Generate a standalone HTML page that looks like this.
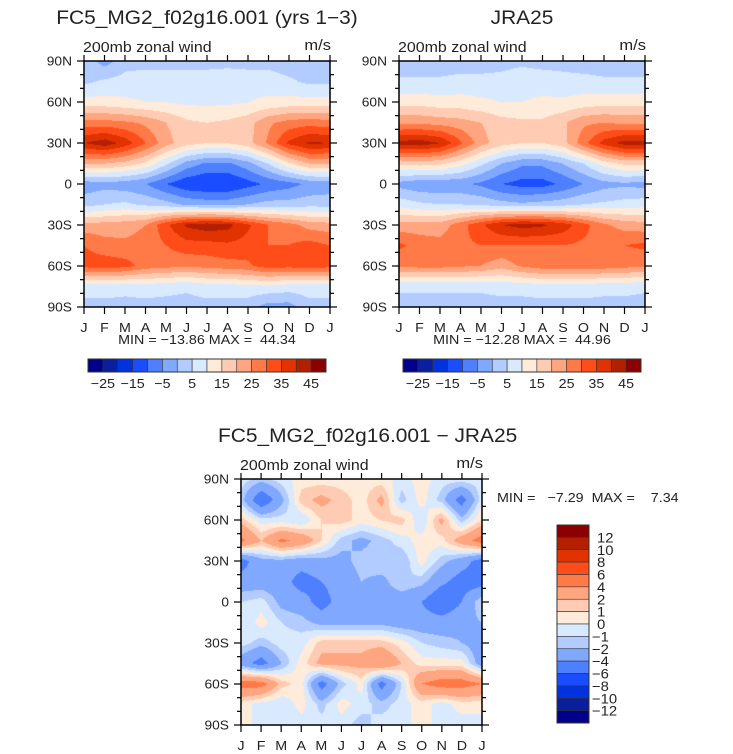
<!DOCTYPE html>
<html><head><meta charset="utf-8">
<style>
body{margin:0;background:#fff;width:733px;height:754px;overflow:hidden;position:relative;font-family:"Liberation Sans",sans-serif}
canvas{position:absolute}
svg{position:absolute;left:0;top:0}
text{font-family:"Liberation Sans",sans-serif;fill:#222;white-space:pre}
</style></head><body>
<canvas id="c1" style="left:84px;top:61px" width="246" height="246"></canvas>
<canvas id="c2" style="left:399px;top:61px" width="246" height="246"></canvas>
<canvas id="c3" style="left:241px;top:479px" width="241" height="246"></canvas>
<svg id="s" width="733" height="754"></svg>
<script>
const months=["J","F","M","A","M","J","J","A","S","O","N","D","J"];
const latLabels=["90N","60N","30N","0","30S","60S","90S"];
const colors=["#00008b","#0a1f9e","#0033dd","#1a4dff","#4d7fff","#80a8ff","#b3ccff","#d9eaff","#ffebd9","#ffccb3","#ffa680","#ff7a47","#ff4d1a","#e03300","#b32000","#8b0000"];
const levelsAbs=[-25,-20,-15,-10,-5,0,5,10,15,20,25,30,35,40,45];
const levelsDiff=[-12,-10,-8,-6,-4,-2,-1,0,1,2,4,6,8,10,12];
const barLabelsAbs=["-25","-15","-5","5","15","25","35","45"];
const barLabelsDiff=["12","10","8","6","4","2","1","0","-1","-2","-4","-6","-8","-10","-12"];
// rows: 90N,75N,60N,45N,30N,15N,0,15S,30S,45S,60S,75S,90S ; cols J..J
const modelVals=[
[3,-2,3,3,3,3,3,3,3,3,2,3,3],
[4,6,7,8,8,8,8,9,8,8,6,4,4],
[12,12,11,10,10,9,9,9,10,11,12,12,12],
[27,27,26,24,20,16,15,16,18,24,27,28,27],
[40,43,38,30,22,17,15,15,18,26,36,41,40],
[20,20,18,14,6,-2,-6,-6,-2,5,14,20,20],
[-3,-2,-3,-5,-10,-14,-15,-15,-12,-9,-7,-4,-3],
[3,5,6,4,2,-1,-2,-2,0,2,2,3,3],
[22,22,23,25,34,41,43,42,36,30,27,23,22],
[30,27,26,27,30,33,33,34,33,30,30,32,30],
[32,33,32,28,27,26,27,28,29,33,32,33,32],
[8,8,7,8,7,6,8,8,9,9,8,8,8],
[3,3,3,3,3,3,3,3,2,-2,-2,3,3]];
const jraVals=[
[2,2,2,2,2,3,4,3,3,2,2,2,2],
[6,6,6,7,7,7,8,8,7,7,6,6,6],
[13,13,12,12,11,10,10,11,11,12,13,13,13],
[24,24,23,22,20,17,16,16,19,24,25,24,24],
[42,43,40,31,22,17,15,15,18,28,37,42,42],
[16,17,16,12,6,0,-4,-4,0,5,12,16,16],
[-2,-4,-4,-4,-6,-10,-12,-12,-9,-5,-2,-1,-2],
[8,6,5,5,4,2,1,2,3,5,6,7,8],
[22,22,22,28,34,40,42,41,38,32,26,23,22],
[31,28,27,29,30,30,30,30,30,29,29,30,31],
[26,27,27,26,25,22,26,28,28,28,28,27,26],
[6,6,6,6,6,7,7,8,8,8,7,7,6],
[3,3,3,3,3,3,3,3,3,3,3,3,3]];
const diffVals=[
[-0.5,-1.5,-0.5,0.5,0.5,0.5,0.5,0.5,-0.5,0.5,-0.5,-0.5,-0.5],
[-1.5,-6,-2.5,1.5,2.5,1.5,0.5,2.5,-1.5,0.5,-1.5,-5,-0.5],
[1.5,-0.5,-0.5,-1,1,1.5,0.5,1,1.5,-1,2.5,-1.5,1],
[4.5,2,4.5,3.5,1,-1.5,-2.5,-1.5,-0.5,0.5,0.5,3,5],
[-5,-2.5,-2.5,-3,-2.5,-2.5,-1.5,-1,-2,0.5,-1.5,-3,-5],
[-3,-3,-3,-5,-4,-3,-2,-2.5,-1,-1.5,-3.5,-5,-5],
[-1,-0.5,-2.5,-3,-5,-3,-3,-3,-3,-4,-6,-4,-1],
[-1,0.5,-1,-1.5,-2.5,-2.5,-2.5,-2.5,-3,-3,-3,-2.5,-2],
[-0.5,-1.5,-0.5,-0.5,1.5,1.5,1.5,1.5,0.5,-1,-1.5,-2,-3],
[-3,-5,-2,0.5,2.5,2.5,2.5,4,2,0.5,0.5,0.5,-3],
[5,5,1.5,0.5,-5,-1.5,0.5,-5,-1,4,5,5,4],
[0.5,-0.5,-1,0.5,-1.5,0.5,-0.5,-1.5,-0.5,0.5,-0.5,0.5,0.5],
[0.5,-0.5,-0.5,-0.5,-0.5,-0.5,-1.5,-0.5,-0.5,0.5,-0.5,-0.5,-0.5]];

function hex(c){return [parseInt(c.substr(1,2),16),parseInt(c.substr(3,2),16),parseInt(c.substr(5,2),16)];}
const rgb=colors.map(hex);
function colorIdx(v,lev){let i=0;while(i<lev.length&&v>=lev[i])i++;return i;}
function drawField(id,vals,lev){
  const cv=document.getElementById(id),ctx=cv.getContext('2d');
  const W=cv.width,H=cv.height,img=ctx.createImageData(W,H);
  const nr=vals.length,nc=vals[0].length;
  for(let y=0;y<H;y++){const fy=y/(H-1)*(nr-1),r0=Math.min(Math.floor(fy),nr-2),ty=fy-r0;
    for(let x=0;x<W;x++){const fx=x/(W-1)*(nc-1),c0=Math.min(Math.floor(fx),nc-2),tx=fx-c0;
      const v=(vals[r0][c0]*(1-tx)+vals[r0][c0+1]*tx)*(1-ty)+(vals[r0+1][c0]*(1-tx)+vals[r0+1][c0+1]*tx)*ty;
      const c=rgb[colorIdx(v,lev)],k=(y*W+x)*4;img.data[k]=c[0];img.data[k+1]=c[1];img.data[k+2]=c[2];img.data[k+3]=255;}}
  ctx.putImageData(img,0,0);
}
drawField('c1',modelVals,levelsAbs);
drawField('c2',jraVals,levelsAbs);
drawField('c3',diffVals,levelsDiff);

const S=document.getElementById('s'),NS="http://www.w3.org/2000/svg";
function el(t,a,txt){const e=document.createElementNS(NS,t);for(const k in a)e.setAttribute(k,a[k]);if(txt!==undefined)e.textContent=txt;S.appendChild(e);return e;}
function axes(x0,y0,w,h,pfx){
  const b=el('rect',{x:x0,y:y0,width:w,height:h,fill:'none',stroke:'#000','stroke-width':1.5});
  
  
  for(let i=0;i<13;i++){const x=x0+w*i/12;
    el('line',{x1:x,y1:y0-6,x2:x,y2:y0,stroke:'#000','stroke-width':1.2});
    el('line',{x1:x,y1:y0+h,x2:x,y2:y0+h+7,stroke:'#000','stroke-width':1.2});
    const t=el('text',{x:x,y:y0+h+25,'font-size':13,'text-anchor':'middle'},months[i]);
    
    }
  for(let j=0;j<=18;j++){const y=y0+h*j/18,maj=j%3==0,L=maj?7:4;
    el('line',{x1:x0-L,y1:y,x2:x0,y2:y,stroke:'#000','stroke-width':1.2});
    el('line',{x1:x0+w,y1:y,x2:x0+w+L,y2:y,stroke:'#000','stroke-width':1.2});
    if(maj){const t=el('text',{x:x0-12,y:y+4.5,'font-size':12.5,'text-anchor':'end'},latLabels[j/3]);
      
      }}
  const a=el('text',{x:x0-1,y:y0-9,'font-size':14.5},'200mb zonal wind');
  
  
  const u=el('text',{x:x0+w+1,y:y0-11,'font-size':15,'text-anchor':'end'},'m/s');
  
  
}
axes(84,61,246,246,'model');
axes(399,61,246,246,'jra25');
axes(241,479,241,246,'diff');
function title(x,y,txt,nm,anchor){const t=el('text',{x:x,y:y,'font-size':19,'text-anchor':anchor||'middle',fill:'#333'},txt);
  
  }
title(207,24,'FC5_MG2_f02g16.001 (yrs 1\u22123)','model-title');
title(522,24,'JRA25','jra25-title');
title(218,442,'FC5_MG2_f02g16.001 \u2212 JRA25','diff-title','start');
function minmax(x,y,txt,nm,anchor){const t=el('text',{x:x,y:y,'font-size':13,'text-anchor':anchor||'middle'},txt);
  
  }
minmax(207,344,'MIN = \u221213.86 MAX =  44.34','model-min-max');
minmax(522,344,'MIN = \u221212.28 MAX =  44.96','jra25-min-max');
minmax(497,502,'MIN =   \u22127.29  MAX =    7.34','diff-min-max','start');
function hbar(x0,y0,pfx){const bw=238/16;
  for(let i=0;i<16;i++){const r=el('rect',{x:x0+i*bw,y:y0,width:bw,height:13,fill:colors[i],stroke:'#333','stroke-width':0.6});
    
    }
  el('rect',{x:x0,y:y0,width:238,height:13,fill:'none',stroke:'#333','stroke-width':1});
  for(let k=0;k<barLabelsAbs.length;k++){const t=el('text',{x:x0+bw*(1+2*k),y:y0+29,'font-size':13,'text-anchor':'middle'},barLabelsAbs[k].replace('-','\u2212'));
    
    }}
hbar(88,359,'model');hbar(403,359,'jra25');
(function(){const x0=557,y0=525,bh=198/16;
  for(let i=0;i<16;i++){const r=el('rect',{x:x0,y:y0+i*bh,width:32,height:bh,fill:colors[15-i],stroke:'#333','stroke-width':0.6});
    
    }
  el('rect',{x:x0,y:y0,width:32,height:198,fill:'none',stroke:'#333','stroke-width':1});
  for(let k=0;k<barLabelsDiff.length;k++){const lab=barLabelsDiff[k];const t=el('text',{x:lab[0]=='-'?592:597,y:y0+bh*(k+1)+5,'font-size':13.5},lab.replace('-','\u2212'));
    
    }})();
// widen text to match the wide reference font
document.querySelectorAll('svg text').forEach(t=>{const L=t.getComputedTextLength();if(L>0){t.setAttribute('textLength',(L*1.1).toFixed(1));t.setAttribute('lengthAdjust','spacingAndGlyphs');}});
</script>
</body></html>
